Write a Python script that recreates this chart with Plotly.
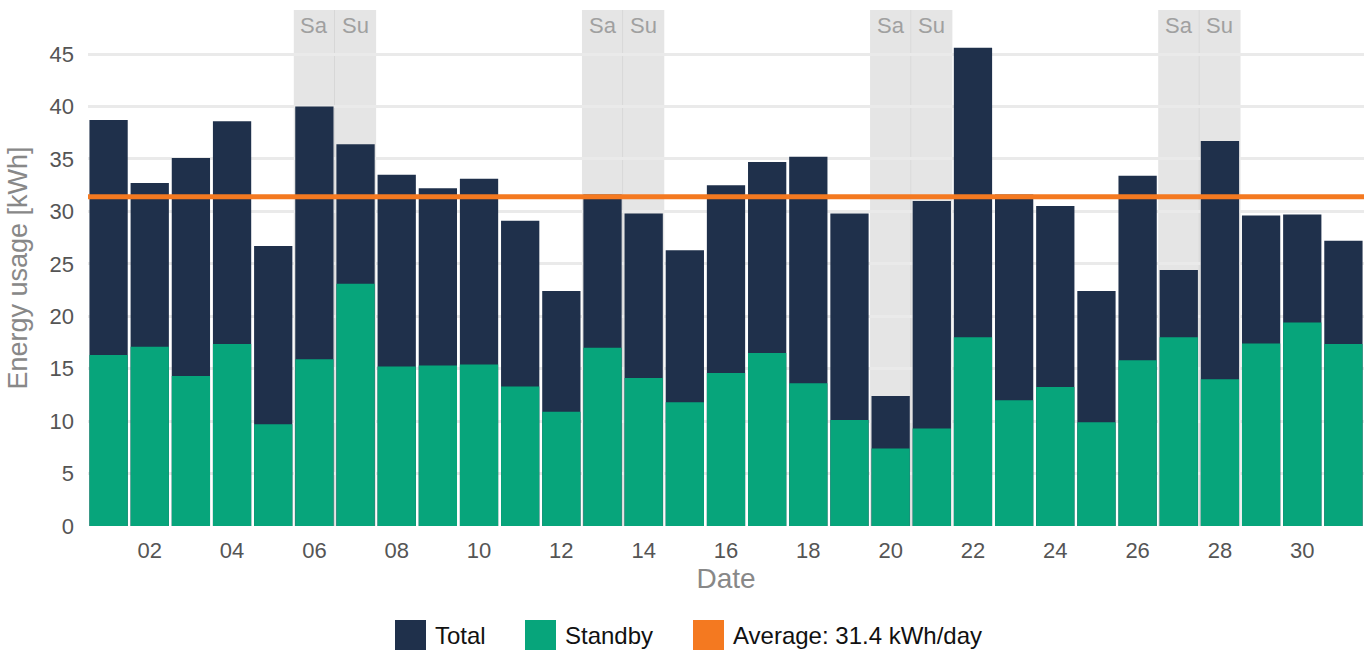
import plotly.graph_objects as go

days = list(range(1, 32))
total = [38.7, 32.7, 35.1, 38.6, 26.7, 40.0, 36.4, 33.5, 32.2, 33.1,
         29.1, 22.4, 31.6, 29.8, 26.3, 32.5, 34.7, 35.2, 29.8, 12.4,
         31.0, 45.6, 31.6, 30.5, 22.4, 33.4, 24.4, 36.7, 29.6, 29.7, 27.2]
standby = [16.3, 17.1, 14.3, 17.35, 9.7, 15.9, 23.1, 15.2, 15.3, 15.4,
           13.3, 10.9, 17.0, 14.1, 11.8, 14.6, 16.5, 13.6, 10.1, 7.4,
           9.3, 18.0, 12.0, 13.25, 9.9, 15.8, 18.0, 14.0, 17.4, 19.4, 17.35]
average = 31.4
weekends = [(6, "Sa"), (7, "Su"), (13, "Sa"), (14, "Su"), (20, "Sa"), (21, "Su"), (27, "Sa"), (28, "Su")]
tick_days = list(range(2, 31, 2))
tick_labels = [f"{d:02d}" for d in tick_days]
legend_names = ["Total", "Standby", f"Average: {average} kWh/day"]

NAVY = "#1F304B"
GREEN = "#07A57B"
ORANGE = "#F47920"
FONT = "Liberation Sans, Arial, sans-serif"

W, H = 1368, 653
ML, MR, MT, MB = 88, 4, 10, 127
PW, PH = W - ML - MR, H - MT - MB


def px_x(p):
    return (p - ML) / PW


def px_y(p):
    return (H - MB - p) / PH


fig = go.Figure()
fig.add_trace(go.Bar(x=days, y=total, name=legend_names[0], marker=dict(color=NAVY, line=dict(width=0))))
fig.add_trace(go.Bar(x=days, y=standby, name=legend_names[1], marker=dict(color=GREEN, line=dict(width=0))))
fig.add_trace(go.Scatter(x=[0.5, 31.5], y=[average, average], mode="lines", name=legend_names[2],
                         line=dict(color=ORANGE, width=5), hoverinfo="skip"))

shapes = []
annotations = []
for d, lab in weekends:
    shapes.append(dict(type="rect", xref="x", yref="paper", x0=d - 0.5, x1=d + 0.5, y0=0, y1=1,
                       fillcolor="#E5E5E5", line=dict(width=0), layer="below"))
    annotations.append(dict(x=d, y=1, xref="x", yref="paper", text=lab, showarrow=False,
                            yanchor="top", yshift=-1, font=dict(family=FONT, size=22, color="#A0A0A0")))
    if lab == "Sa":
        shapes.append(dict(type="line", xref="x", yref="paper", x0=d + 0.5, x1=d + 0.5, y0=0, y1=1,
                           line=dict(color="#C8C8C8", width=1), layer="below"))

# custom legend with large square swatches
legend_items = [(395, NAVY, legend_names[0]), (525, GREEN, legend_names[1]), (693, ORANGE, legend_names[2])]
for x0, col, name in legend_items:
    shapes.append(dict(type="rect", xref="paper", yref="paper", x0=px_x(x0), x1=px_x(x0 + 31),
                       y0=px_y(650), y1=px_y(620), fillcolor=col, line=dict(width=0)))
    annotations.append(dict(x=px_x(x0 + 38), y=px_y(635), xref="paper", yref="paper", text=name,
                            showarrow=False, xanchor="left", yanchor="middle",
                            font=dict(family=FONT, size=24, color="#111111")))

fig.update_layout(
    width=W, height=H,
    margin=dict(l=ML, r=MR, t=MT, b=MB),
    barmode="overlay", bargap=0.07,
    plot_bgcolor="white", paper_bgcolor="white",
    font=dict(family=FONT, size=22, color="#555555"),
    shapes=shapes, annotations=annotations,
    showlegend=False,
    xaxis=dict(range=[0.5, 31.5], tickvals=tick_days, ticktext=tick_labels, showgrid=False,
               zeroline=False, showline=False, ticks="", automargin=False, ticklabelstandoff=9,
               title=dict(text="Date", font=dict(family=FONT, size=28, color="#888888"), standoff=6),
               tickfont=dict(family=FONT, size=22, color="#555555")),
    yaxis=dict(range=[0, 49.2], tickvals=[0, 5, 10, 15, 20, 25, 30, 35, 40, 45], showgrid=True,
               gridcolor="#EAEAEA", gridwidth=3, zeroline=False, ticks="", automargin=False,
               ticklabelstandoff=13,
               title=dict(text="Energy usage [kWh]", font=dict(family=FONT, size=27, color="#888888"), standoff=14),
               tickfont=dict(family=FONT, size=22, color="#555555")),
)

fig.write_html("out.html", config={"displayModeBar": False},
               post_script="document.body.style.margin='0';document.body.style.overflow='hidden';")
